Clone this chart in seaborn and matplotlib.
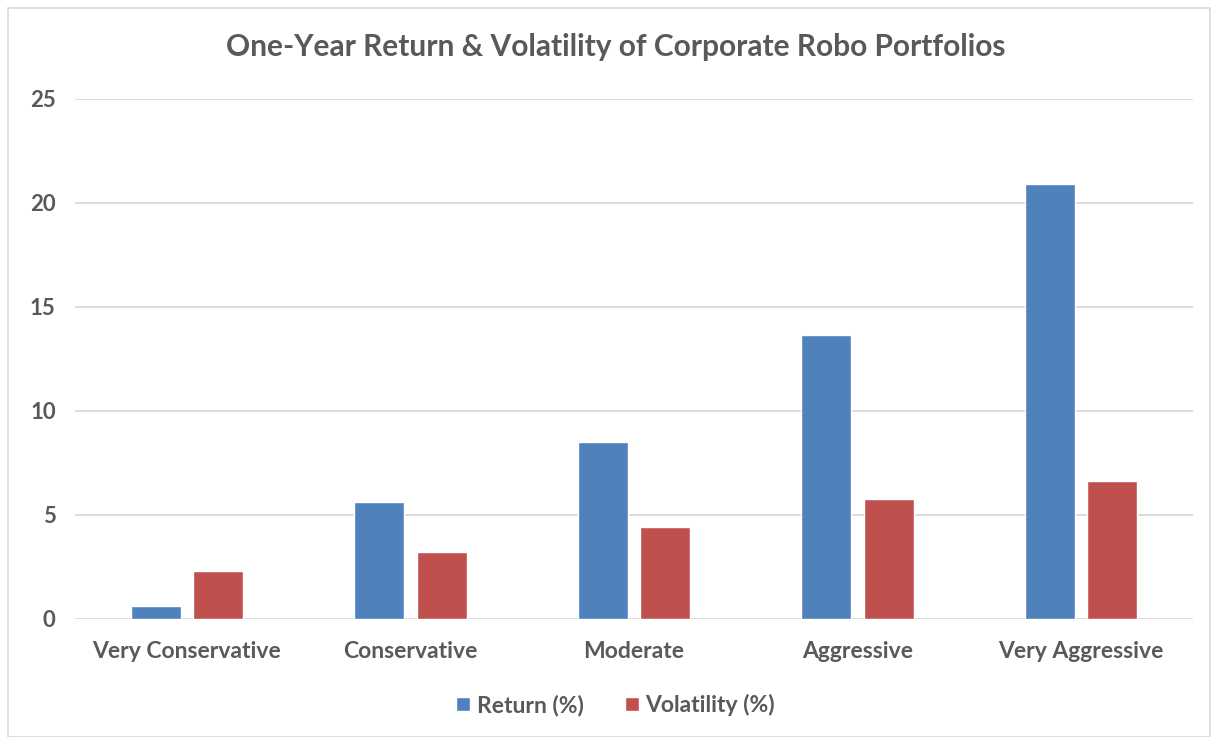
import pandas as pd
import seaborn as sns
import matplotlib.pyplot as plt
from matplotlib.patches import Rectangle

# Data
categories = ['Very Conservative', 'Conservative', 'Moderate', 'Aggressive', 'Very Aggressive']
returns = [0.6, 5.6, 8.5, 13.65, 20.9]
volatility = [2.3, 3.2, 4.4, 5.75, 6.6]
series_names = ['Return (%)', 'Volatility (%)']
yticks = [0, 5, 10, 15, 20, 25]

df = pd.DataFrame({
    'category': categories * 2,
    'value': returns + volatility,
    'series': [series_names[0]] * len(categories) + [series_names[1]] * len(categories),
})

sns.set_style('white')
plt.rcParams['font.family'] = ['Lato', 'DejaVu Sans']

text_color = '#595959'
grid_color = '#D9D9D9'
palette = {series_names[0]: '#4F81BD', series_names[1]: '#C0504D'}

fig = plt.figure(figsize=(12.12, 7.37), dpi=100)
ax = fig.add_axes([0.062, 0.1607, 0.922, 0.7055])

sns.barplot(data=df, x='category', y='value', hue='series', palette=palette,
            width=0.56, gap=0.2, saturation=1, ax=ax, legend=True)

ax.set_ylim(0, 25)
ax.set_yticks(yticks)
ax.set_xlim(-0.5, len(categories) - 0.5)
ax.yaxis.grid(True, color=grid_color, linewidth=1.3)
ax.set_axisbelow(True)
for s in ax.spines.values():
    s.set_visible(False)
ax.set_xlabel('')
ax.set_ylabel('')
ax.tick_params(axis='y', length=0, pad=14, labelsize=16, labelcolor=text_color)
ax.tick_params(axis='x', length=0, pad=16, labelsize=16.5, labelcolor=text_color)
for lbl in ax.get_xticklabels() + ax.get_yticklabels():
    lbl.set_fontweight('bold')

# legend below the plot
handles, labels = ax.get_legend_handles_labels()
ax.get_legend().remove()
leg = fig.legend(handles, labels, loc='center', bbox_to_anchor=(0.508, 1 - 705 / 737),
                 ncol=2, frameon=False, fontsize=16.5, handlelength=0.6, handleheight=0.6,
                 handletextpad=0.3, columnspacing=1.8)
for t in leg.get_texts():
    t.set_color(text_color)
    t.set_fontweight('bold')

fig.suptitle('One-Year Return & Volatility of Corporate Robo Portfolios',
             x=0.508, y=1 - 47 / 737, va='center', fontsize=21.5, fontweight='bold',
             color=text_color)

# thin chart-area border
fig.patches.append(Rectangle((8 / 1212, 0), 1 - 10 / 1212, 1 - 8 / 737,
                             transform=fig.transFigure, fill=False,
                             edgecolor=grid_color, linewidth=1.2))

fig.savefig('out.png', dpi=100, facecolor='white')
